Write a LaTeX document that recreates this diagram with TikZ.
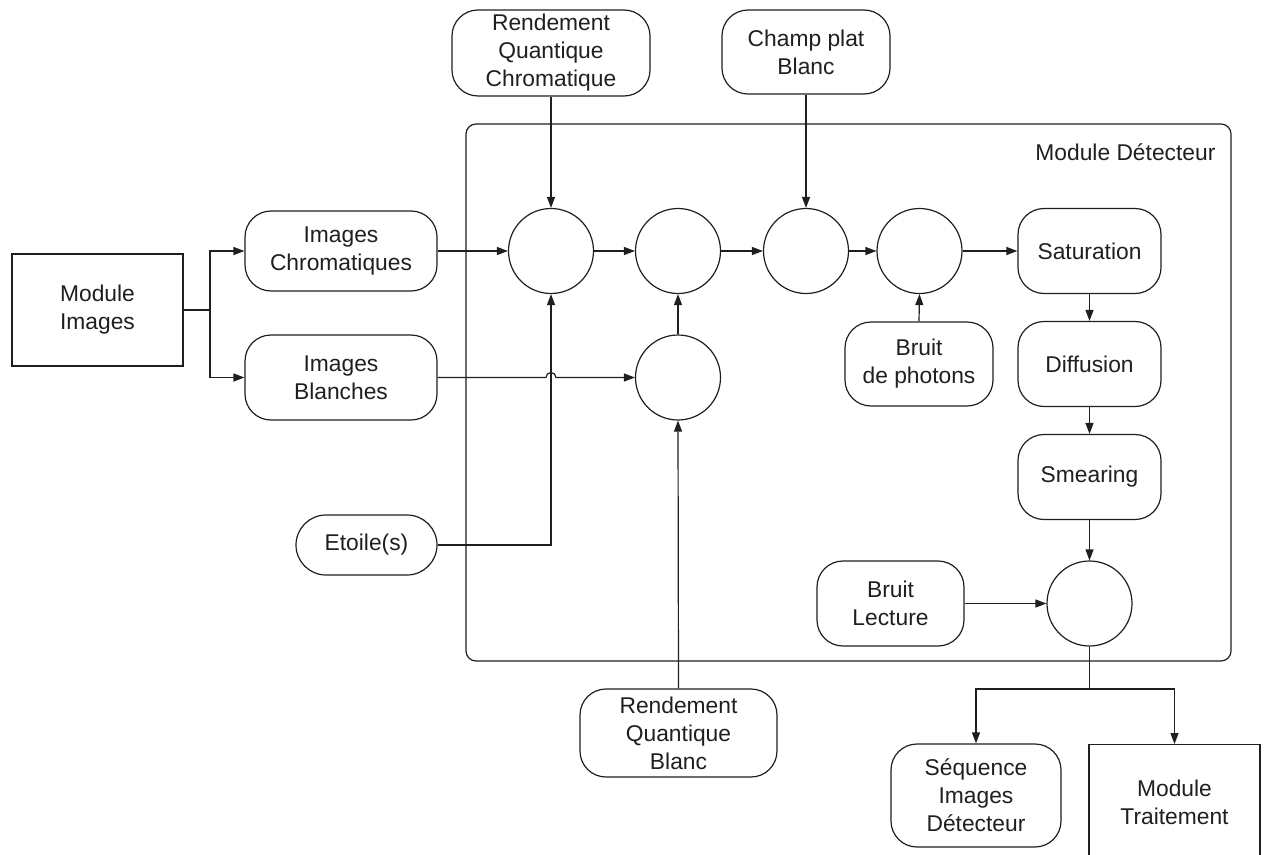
\documentclass[tikz,border=0pt]{standalone}
\usepackage{fontspec}
\setmainfont{Liberation Sans}
\usetikzlibrary{arrows.meta, positioning}

\begin{document}
\begin{tikzpicture}[x=1pt, y=-1pt, >={Triangle[length=11pt, width=8pt]},
    line width=1.2pt, color={black!88},
    font=\fontsize{22.8}{28}\selectfont,
    blk/.style={draw, rectangle, align=center, inner sep=0pt},
    rnd/.style={draw, rounded corners=26pt, align=center, inner sep=0pt},
    op/.style={draw, circle, minimum size=85pt, inner sep=0pt}]
  \useasboundingbox (0,0) rectangle (1266,854);
  \clip (0,0) rectangle (1266,854);

  % detector frame
  \node[draw, rounded corners=10pt, minimum width=765pt, minimum height=537pt] (det) at (848.5,392.5) {};
  \node[anchor=east, inner sep=0pt] (detlbl) at (1216,152) {Module Détecteur};

  % inputs
  \node[blk, minimum width=171pt, minimum height=112pt] (modimg) at (97.5,310) {Module\\Images};
  \node[rnd, minimum width=192pt, minimum height=80pt] (chrom) at (341,251) {Images\\Chromatiques};
  \node[rnd, minimum width=192pt, minimum height=85pt] (blanc) at (341,377.5) {Images\\Blanches};
  \node[rnd, minimum width=198pt, minimum height=86pt] (rqc) at (551,53) {Rendement\\Quantique\\Chromatique};
  \node[rnd, minimum width=168pt, minimum height=84pt] (champ) at (806,52) {Champ plat\\Blanc};
  \node[rnd, rounded corners=30pt, minimum width=141pt, minimum height=60pt] (etoile) at (366.5,545) {Etoile(s)};
  \node[rnd, minimum width=197pt, minimum height=88pt] (rqb) at (678.5,733) {Rendement\\Quantique\\Blanc};

  % operators
  \node[op] (c1) at (551,251) {};
  \node[op] (c2) at (678,251) {};
  \node[op] (c3) at (806,251) {};
  \node[op] (c4) at (919.5,251) {};
  \node[op] (c5) at (678,377.5) {};
  \node[op] (c6) at (1089.5,603.5) {};

  \node[rnd, minimum width=143pt, minimum height=85pt] (sat) at (1089.5,251) {Saturation};
  \node[rnd, minimum width=143pt, minimum height=85pt] (diff) at (1089.5,364) {Diffusion};
  \node[rnd, minimum width=143pt, minimum height=85pt] (smear) at (1089.5,477) {Smearing};
  \node[rnd, minimum width=148pt, minimum height=84pt] (photons) at (919,364) {Bruit\\de photons};
  \node[rnd, minimum width=147pt, minimum height=85pt] (lecture) at (890.5,603.5) {Bruit\\Lecture};

  % outputs
  \node[rnd, minimum width=170pt, minimum height=103pt] (seq) at (976,795.5) {Séquence\\Images\\Détecteur};
  \node[blk, anchor=north, minimum width=171pt, minimum height=116pt] (trait) at (1174.5,744) {Module\\Traitement};

  \coordinate (split1) at (210,310);
  \coordinate (split2) at (1089.5,689);

  \draw (modimg.east) -- (split1);
  \draw[->] (split1) |- (chrom.west);
  \draw[->] (split1) |- (blanc.west);
  \draw[->] (chrom.east) -- (c1.west);
  \draw[->] (blanc.east) -- (546,377.5) arc[start angle=180, end angle=0, radius=5pt] -- (c5.west);
  \draw[->] (rqc.south) -- (c1.north);
  \draw[->] (champ.south) -- (c3.north);
  \draw[->] (etoile.east) -| (c1.south);
  \draw[->] (c1) -- (c2);
  \draw[->] (c2) -- (c3);
  \draw[->] (c3) -- (c4);
  \draw[->] (c4) -- (sat);
  \draw[->] (c5) -- (c2);
  \draw[->] (rqb.north) -- (c5.south);
  \draw[->] (photons.north) -- (c4.south);
  \draw[->] (sat) -- (diff);
  \draw[->] (diff) -- (smear);
  \draw[->] (smear) -- (c6);
  \draw[->] (lecture) -- (c6);
  \draw (c6.south) -- (split2);
  \draw[->] (split2) -| (seq.north);
  \draw[->] (split2) -| (trait.north);
\end{tikzpicture}
\end{document}
